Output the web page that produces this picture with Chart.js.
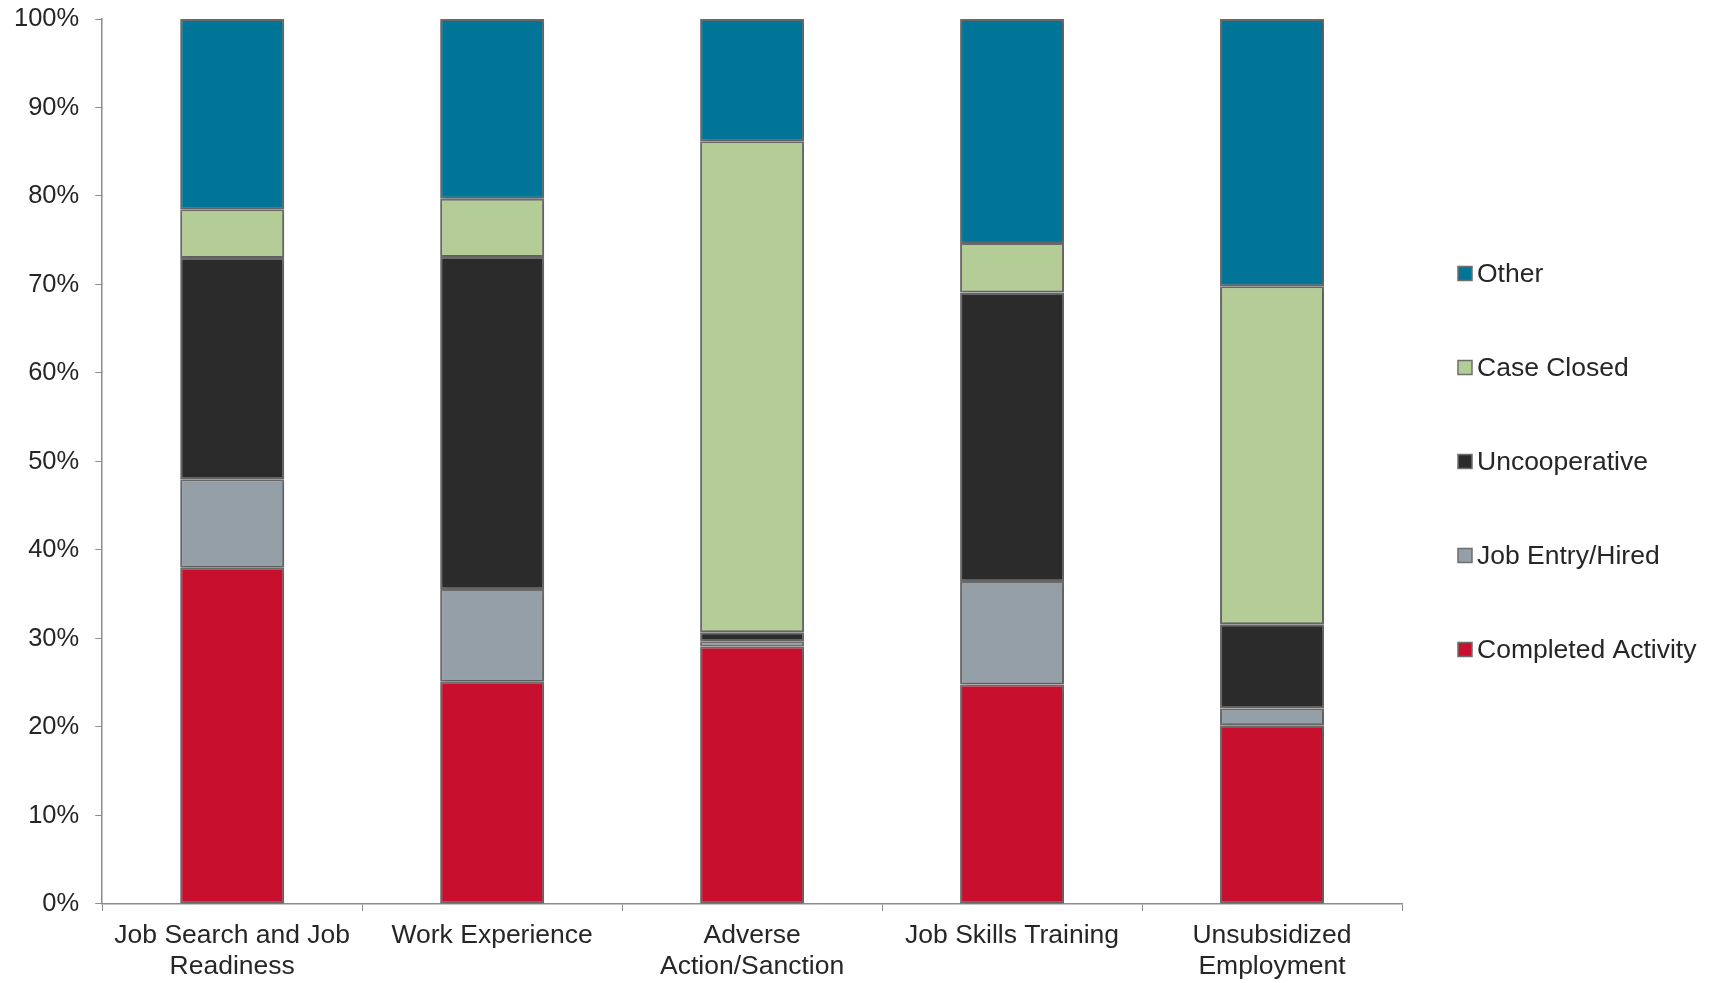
<!DOCTYPE html>
<html>
<head>
<meta charset="utf-8">
<title>Outcomes by activity</title>
<script src="https://cdn.jsdelivr.net/npm/chart.js@4.4.1/dist/chart.umd.min.js"></script>
<style>
  html, body { margin: 0; padding: 0; background: #fff; overflow: hidden; }
  #wrap { width: 1711px; height: 983px; }
</style>
</head>
<body>
<div id="wrap"><canvas id="outcomeChart" width="1711" height="983"></canvas></div>
<script>
// categories and series (percent of cases)
const categories = [
    ['Job Search and Job', 'Readiness'],
    'Work Experience',
    ['Adverse', 'Action/Sanction'],
    'Job Skills Training',
    ['Unsubsidized', 'Employment']
];
const completedActivity = [38.0, 25.1, 29.1, 24.8, 20.2];
const jobEntryHired     = [10.0, 10.5, 0.6, 11.7, 1.9];
const uncooperative     = [25.0, 37.5, 1.0, 32.6, 9.5];
const caseClosed        = [5.5, 6.6, 55.5, 5.6, 38.2];
const other             = [21.5, 20.3, 13.8, 25.3, 30.2];
const yTicks = [0, 10, 20, 30, 40, 50, 60, 70, 80, 90, 100];

const FONT = "'Liberation Sans', Arial, sans-serif";
const TEXT = '#262626';
const edge = '#6e6e6e';

function series(label, data, color) {
    return {
        label: label,
        data: data,
        backgroundColor: color,
        borderColor: edge,
        borderWidth: 2,
        borderSkipped: false,
        barPercentage: 0.4,
        categoryPercentage: 1.0
    };
}

// soft shadow round the bars
const barShadow = {
    id: 'barShadow',
    beforeDatasetsDraw(chart) {
        const ctx = chart.ctx;
        ctx.save();
        ctx.shadowColor = 'rgba(0,0,0,0.25)';
        ctx.shadowBlur = 4;
        ctx.shadowOffsetX = 0.5;
        ctx.shadowOffsetY = 1;
    },
    afterDatasetsDraw(chart) {
        chart.ctx.restore();
    }
};

// legend on the right, top series first, spaced like the original
const sideLegend = {
    id: 'sideLegend',
    afterDraw(chart) {
        const ctx = chart.ctx;
        const area = chart.chartArea;
        const sets = chart.data.datasets.slice().reverse();
        const gap = 94;
        const midY = (area.top + area.bottom) / 2;
        const x0 = area.right + 56;
        ctx.save();
        ctx.font = '26.5px ' + FONT;
        ctx.textBaseline = 'middle';
        ctx.textAlign = 'left';
        sets.forEach((ds, i) => {
            const cy = midY + (i - (sets.length - 1) / 2) * gap;
            ctx.fillStyle = ds.backgroundColor;
            ctx.fillRect(x0, cy - 7, 14, 14);
            ctx.strokeStyle = edge;
            ctx.lineWidth = 1.5;
            ctx.strokeRect(x0, cy - 7, 14, 14);
            ctx.fillStyle = TEXT;
            ctx.fillText(ds.label, x0 + 19, cy + 1);
        });
        ctx.restore();
    }
};

const ctx = document.getElementById('outcomeChart').getContext('2d');
new Chart(ctx, {
    type: 'bar',
    data: {
        labels: categories,
        datasets: [
            series('Completed Activity', completedActivity, '#c8102e'),
            series('Job Entry/Hired', jobEntryHired, '#959fa8'),
            series('Uncooperative', uncooperative, '#2b2b2b'),
            series('Case Closed', caseClosed, '#b4cc96'),
            series('Other', other, '#007598')
        ]
    },
    options: {
        responsive: false,
        animation: false,
        layout: { padding: { top: 19, left: -2, right: 309, bottom: -8 } },
        plugins: {
            tooltip: { enabled: false },
            legend: { display: false }
        },
        scales: {
            x: {
                stacked: true,
                grid: { drawOnChartArea: false, drawTicks: true, tickLength: 7, color: '#8c8c8c', offset: true },
                border: { color: '#8c8c8c', width: 1.5 },
                ticks: {
                    color: TEXT,
                    padding: 9,
                    maxRotation: 0,
                    autoSkip: false,
                    font: { family: FONT, size: 26.5, lineHeight: 1.17 }
                }
            },
            y: {
                stacked: true,
                min: 0,
                max: 100,
                afterBuildTicks(axis) { axis.ticks = yTicks.map(v => ({ value: v })); },
                afterFit(axis) { axis.paddingTop = 0; },
                grid: { drawOnChartArea: false, drawTicks: true, tickLength: 7, color: '#8c8c8c' },
                border: { color: '#8c8c8c', width: 1.5 },
                ticks: {
                    color: TEXT,
                    padding: 16,
                    font: { family: FONT, size: 25.5 },
                    callback: v => v + '%'
                }
            }
        }
    },
    plugins: [barShadow, sideLegend]
});
</script>
</body>
</html>
